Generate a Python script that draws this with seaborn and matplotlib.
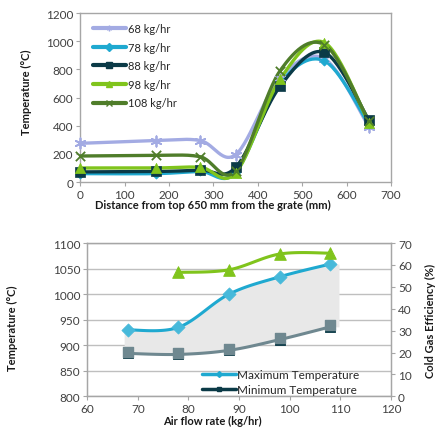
import numpy as np
import seaborn as sns
import matplotlib.pyplot as plt
from matplotlib.lines import Line2D
from matplotlib import transforms

# --- data ---
dist = [0, 170, 270, 350, 450, 550, 650]
t68 = [275, 295, 295, 195, 740, 875, 390]
t78 = [60, 60, 75, 70, 700, 860, 410]
t88 = [72, 75, 85, 104, 680, 920, 440]
t98 = [100, 100, 105, 65, 730, 990, 420]
t108 = [185, 190, 180, 80, 790, 975, 430]
flow_labels = ['68 kg/hr', '78 kg/hr', '88 kg/hr', '98 kg/hr', '108 kg/hr']

airflow = [68, 78, 88, 98, 108]
tmax = [930, 935, 1000, 1034, 1059]
tmin = [884, 882, 890, 911, 936]
airflow_cge = [78, 88, 98, 108]
cge = [56.6, 57.8, 65.0, 65.4]

sns.set_style('white')
plt.rcParams['font.family'] = ['Lato', 'DejaVu Sans']
tick_col = '#404040'
frame_col = '#a6a6a6'
lab_col = '#1a1a1a'


def smooth(x, y, n=30):
    # Excel-like smoothed line (Catmull-Rom -> Bezier)
    x = np.asarray(x, float)
    y = np.asarray(y, float)
    P = np.c_[x, y]
    P = np.vstack([P[0], P, P[-1]])
    out = []
    t = np.linspace(0, 1, n)[:, None]
    for i in range(1, len(P) - 2):
        p0, p1, p2, p3 = P[i - 1], P[i], P[i + 1], P[i + 2]
        c1 = p1 + (p2 - p0) / 6
        c2 = p2 - (p3 - p1) / 6
        seg = ((1 - t) ** 3) * p1 + 3 * ((1 - t) ** 2) * t * c1 + 3 * (1 - t) * t ** 2 * c2 + t ** 3 * p2
        out.append(seg if i == 1 else seg[1:])
    out = np.vstack(out)
    return out[:, 0], out[:, 1]


fig = plt.figure(figsize=(4.38, 4.39), dpi=100)

# ---------------- top chart ----------------
ax = fig.add_axes([0.183, 0.583, 0.710, 0.385])
series = [t68, t78, t88, t98, t108]
colors = ['#a3abe3', '#1fa9d0', '#0b3a47', '#80c41c', '#4f7d2a']
markers = [(6, 2, 0), 'D', 's', '^', 'x']
msizes = [55, 22, 45, 55, 45]
handles = []
for vals, c, m, s, lab in zip(series, colors, markers, msizes, flow_labels):
    xs, ys = smooth(dist, vals)
    sns.lineplot(x=xs, y=ys, ax=ax, color=c, lw=2.4, sort=False, estimator=None, zorder=3)
    if m in ['x', (6, 2, 0)]:
        sns.scatterplot(x=dist, y=vals, ax=ax, marker=m, s=s, color=c, linewidth=1.3,
                        zorder=4, clip_on=False)
    else:
        sns.scatterplot(x=dist, y=vals, ax=ax, marker=m, s=s, color=c, edgecolor=c,
                        linewidth=0.5, zorder=4, clip_on=False)
    handles.append(Line2D([], [], color=c, lw=3, marker=m, ms=4, mew=1, label=lab))

ax.set_xlim(0, 700)
ax.set_ylim(0, 1200)
ax.set_xticks(range(0, 701, 100))
ax.set_yticks(range(0, 1201, 200))
ax.tick_params(labelsize=8.5, labelcolor=tick_col, color=frame_col, length=3,
               direction='out', left=True, bottom=True, pad=2)
for sp in ax.spines.values():
    sp.set_color(frame_col)
    sp.set_linewidth(1)
ax.set_xlabel('Distance from top 650 mm from the grate (mm)', fontsize=8,
              fontweight='bold', color=lab_col)
ax.xaxis.set_label_coords(0.426, -0.10)
ax.set_ylabel('Temperature (°C)', fontsize=8, fontweight='bold', color=lab_col)
ax.yaxis.set_label_coords(-0.155, 0.535)
ax.legend(handles=handles, loc='upper left', bbox_to_anchor=(0.04, 0.94), frameon=False,
          fontsize=8, handlelength=3.0, handletextpad=0.15, labelspacing=0.68,
          borderaxespad=0, borderpad=0)

# ---------------- bottom chart ----------------
bx = fig.add_axes([0.199, 0.095, 0.694, 0.349])
sx_max, sy_max = smooth(airflow, tmax)
sx_min, sy_min = smooth(airflow, tmin)
# shaded band between the curves, running a little past the end points
pad_l, pad_r = 0.7, 1.7
fx = np.r_[sx_max[0] - pad_l, sx_max, sx_max[-1] + pad_r]
fy1 = np.r_[sy_min[0], sy_min, sy_min[-1]]
fy2 = np.r_[sy_max[0], sy_max, sy_max[-1]]
bx.fill_between(fx, fy1, fy2, color='#e8e8e8', lw=0, zorder=1)
bx.yaxis.grid(True, color='#bfbfbf', lw=1)
bx.set_axisbelow(True)

sns.lineplot(x=sx_max, y=sy_max, ax=bx, color='#1fa9d0', lw=2.2, sort=False,
             estimator=None, zorder=3)
sns.scatterplot(x=airflow, y=tmax, ax=bx, marker='D', s=45, color='#47b9da',
                edgecolor='#47b9da', zorder=4, clip_on=False)

sns.lineplot(x=sx_min, y=sy_min, ax=bx, color='#6f8890', lw=2.2, sort=False,
             estimator=None, zorder=3)
sns.scatterplot(x=airflow, y=tmin, ax=bx, marker='s', s=60, color='#0b3a47',
                edgecolor='#0b3a47', zorder=4, clip_on=False)
up = transforms.offset_copy(bx.transData, fig=fig, x=0, y=1.5, units='dots')
bx.scatter(airflow, tmin, marker='s', s=60, color='#6f8890', zorder=5, transform=up)

bx.set_xlim(60, 120)
bx.set_ylim(800, 1100)
bx.set_xticks(range(60, 121, 10))
bx.set_yticks(range(800, 1101, 50))
bx.tick_params(labelsize=8.5, labelcolor=tick_col, color=frame_col, length=3,
               direction='out', left=True, bottom=True, pad=2)
for sp in bx.spines.values():
    sp.set_color(frame_col)
    sp.set_linewidth(1)
bx.set_xlabel('Air flow rate (kg/hr)', fontsize=8, fontweight='bold', color=lab_col)
bx.xaxis.set_label_coords(0.413, -0.125)
bx.set_ylabel('Temperature (°C)', fontsize=8, fontweight='bold', color=lab_col)
bx.yaxis.set_label_coords(-0.228, 0.452)

b2 = bx.twinx()
sx_c, sy_c = smooth(airflow_cge, cge)
sns.lineplot(x=sx_c, y=sy_c, ax=b2, color='#80c41c', lw=2.2, sort=False,
             estimator=None, zorder=3)
sns.scatterplot(x=airflow_cge, y=cge, ax=b2, marker='^', s=70, color='#80c41c',
                edgecolor='#80c41c', zorder=4, clip_on=False)
b2.set_ylim(0, 70)
b2.set_yticks(range(0, 71, 10))
b2.tick_params(labelsize=8.5, labelcolor=tick_col, color=frame_col, length=3,
               direction='out', right=True, pad=2)
for sp in b2.spines.values():
    sp.set_color(frame_col)
b2.set_ylabel('Cold Gas Efficiency (%)', fontsize=8, fontweight='bold', color=lab_col)
b2.yaxis.set_label_coords(1.112, 0.5)

leg_h = [Line2D([], [], color='#1fa9d0', lw=2.5, marker='D', ms=3, label='Maximum Temperature'),
         Line2D([], [], color='#0b3a47', lw=2.5, marker='s', ms=3.5, label='Minimum Temperature')]
b2.legend(handles=leg_h, loc='upper left', bbox_to_anchor=(0.377, 0.18), frameon=False,
          fontsize=8.5, handlelength=2.9, handletextpad=0.1, labelspacing=0.35,
          borderaxespad=0, borderpad=0)

fig.savefig('out.png', dpi=100)
